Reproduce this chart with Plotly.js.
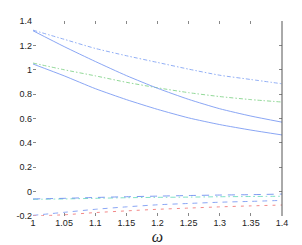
<!DOCTYPE html>
<html><head><meta charset="utf-8">
<script src="https://cdn.plot.ly/plotly-3.0.1.min.js"></script>
<style>html,body{margin:0;padding:0;background:#fff}#c{width:302px;height:245px}</style>
</head><body><div id="c"></div>
<script>
var omega = [1, 1.05, 1.1, 1.15, 1.2, 1.25, 1.3, 1.35, 1.4];
var topDashDot   = [1.325, 1.25, 1.175, 1.115, 1.06, 1.005, 0.955, 0.92, 0.885];
var upperSolid   = [1.32, 1.19, 1.068, 0.952, 0.848, 0.757, 0.68, 0.62, 0.57];
var greenDashDot = [1.055, 1.0, 0.95, 0.897, 0.852, 0.812, 0.78, 0.755, 0.735];
var lowerSolid   = [1.047, 0.95, 0.845, 0.755, 0.675, 0.605, 0.55, 0.505, 0.465];
var cyanDashDot  = [-0.063, -0.06, -0.055, -0.05, -0.047, -0.045, -0.042, -0.04, -0.038];
var blueDashHi   = [-0.06, -0.055, -0.048, -0.042, -0.037, -0.032, -0.028, -0.025, -0.02];
var blueDashLo   = [-0.195, -0.17, -0.145, -0.125, -0.108, -0.097, -0.087, -0.08, -0.072];
var redDash      = [-0.2, -0.19, -0.172, -0.158, -0.145, -0.135, -0.125, -0.117, -0.11];

var xTickVals = [1, 1.05, 1.1, 1.15, 1.2, 1.25, 1.3, 1.35, 1.4];
var xTickText = ['1', '1.05', '1.1', '1.15', '1.2', '1.25', '1.3', '1.35', '1.4'];
var yTickVals = [-0.2, 0, 0.2, 0.4, 0.6, 0.8, 1, 1.2, 1.4];
var yTickText = ['-0.2', '0', '0.2', '0.4', '0.6', '0.8', '1', '1.2', '1.4'];

function tr(y, color, dash, w) {
  return {x: omega, y: y, type: 'scatter', mode: 'lines',
    line: {color: color, dash: dash, width: w || 0.9, shape: 'spline', smoothing: 0.6},
    hoverinfo: 'skip', showlegend: false};
}
var data = [
  tr(topDashDot, '#86a6f4', '4px,2px,1.5px,2px'),
  tr(greenDashDot, '#86d48c', '4px,2px,1.5px,2px'),
  tr(upperSolid, '#7d9cf3', 'solid'),
  tr(lowerSolid, '#7d9cf3', 'solid'),
  tr(cyanDashDot, '#72dcc0', '5px,3px,1.5px,3px'),
  tr(blueDashHi, '#6f90f0', '7px,6px'),
  tr(blueDashLo, '#7d9cf3', '5px,5px'),
  tr(redDash, '#f07a7a', '3px,5px')
];
var font = {family: 'Liberation Sans, Arial, sans-serif', size: 9, color: '#222'};
var layout = {
  width: 302, height: 245,
  margin: {l: 33, r: 20, t: 21, b: 29},
  paper_bgcolor: '#fff', plot_bgcolor: '#fff',
  font: font,
  xaxis: {range: [1, 1.4], tickvals: xTickVals, ticktext: xTickText,
    ticks: 'inside', ticklen: 3, tickcolor: '#888', tickwidth: 1,
    mirror: 'ticks', showline: false, showgrid: false, zeroline: false,
    tickfont: font,
    title: {text: '<i>ω</i>', font: {family: 'Liberation Serif, serif', size: 16, color: '#222'}, standoff: 0}},
  yaxis: {range: [-0.2, 1.4], tickvals: yTickVals, ticktext: yTickText,
    ticks: 'inside', ticklen: 3, tickcolor: '#888', tickwidth: 1,
    mirror: 'ticks', showline: false, showgrid: false, zeroline: false,
    tickfont: font},
  shapes: [{type: 'line', xref: 'paper', yref: 'paper', x0: 1, x1: 1, y0: 0, y1: 1,
    line: {color: '#555', width: 1}}]
};
Plotly.newPlot('c', data, layout, {staticPlot: true, displayModeBar: false});
</script></body></html>
